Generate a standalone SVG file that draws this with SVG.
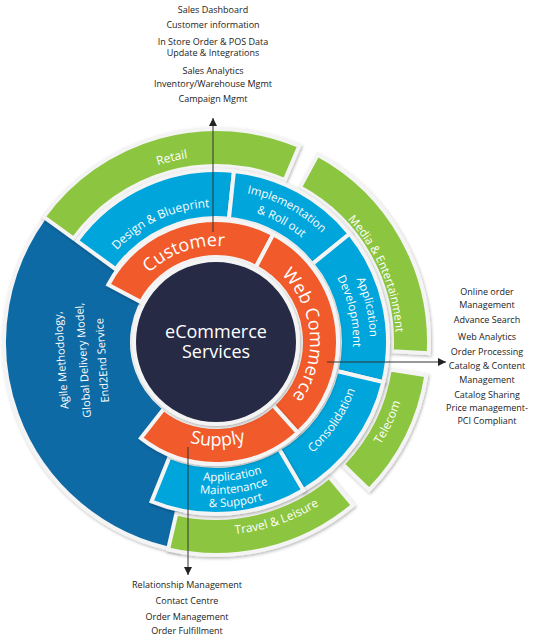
<svg xmlns="http://www.w3.org/2000/svg" width="533" height="642" viewBox="0 0 533 642">
<defs>
<style>
text{font-family:"Open Sans","Noto Sans",sans-serif}
.lst{font-size:9px;fill:#222;text-anchor:middle}
.w{fill:#fff}
.big{font-size:18px;fill:#fff}
.sm{font-size:12px;fill:#fff}
.xs{font-size:11.5px;fill:#fff}
.seg{stroke:#f4f4f4;stroke-width:4;stroke-linejoin:miter;filter:url(#sh)}
.or{fill:#f15a29}.bl{fill:#00a5db}.gr{fill:#8cc63f}.db{fill:#0f6aa5}
.con{stroke:#333;stroke-width:1;fill:none;marker-end:url(#ah)}
</style>
<filter id="sh" x="-20%" y="-20%" width="140%" height="140%">
<feDropShadow dx="1" dy="1.5" stdDeviation="1.8" flood-color="#000" flood-opacity="0.28"/>
</filter>
<marker id="ah" markerUnits="userSpaceOnUse" markerWidth="8" markerHeight="8" refX="8" refY="4" orient="auto">
<path d="M0,0 L8,4 L0,8 Z" fill="#222"/>
</marker>
<path id="pRetail" d="M 37.66 289.18 A 186 186 0 0 1 350.92 213.96"/>
<path id="pDesign" d="M 81.51 330.23 A 135 135 0 0 1 293.44 231.41"/>
<path id="pCust" d="M 121.60 324.51 A 96 96 0 0 1 278.34 269.00"/>
<path id="pImpl" d="M 135.45 213.10 A 152 152 0 0 1 367.91 336.70"/>
<path id="pRoll" d="M 145.46 226.90 A 135 135 0 0 1 350.96 338.47"/>
<path id="pME" d="M 237.94 163.35 A 180 180 0 0 1 359.75 450.32"/>
<path id="pApp" d="M 261.03 194.73 A 154 154 0 0 1 321.03 454.63"/>
<path id="pDev" d="M 256.06 210.99 A 137 137 0 0 1 309.43 442.20"/>
<path id="pWeb" d="M 255.72 256.81 A 94 94 0 0 1 269.92 419.00"/>
<path id="pSup" d="M 126.85 395.56 A 104 104 0 0 0 306.96 392.42"/>
<path id="pA1" d="M 104.99 425.65 A 139 139 0 0 0 343.95 396.31"/>
<path id="pA2" d="M 94.61 433.47 A 152 152 0 0 0 355.92 401.39"/>
<path id="pA3" d="M 84.23 441.30 A 165 165 0 0 0 367.88 406.47"/>
<path id="pCons" d="M 205.74 488.65 A 147 147 0 0 0 348.12 277.56"/>
<path id="pTel" d="M 232.92 535.26 A 194 194 0 0 0 374.92 230.72"/>
<path id="pTrav" d="M 89.37 487.66 A 193 193 0 0 0 405.45 378.82"/>
</defs>
<rect width="533" height="642" fill="#fff"/>
<circle cx="216" cy="342" r="174" fill="#ececec"/>

<g id="agile">
<path class="seg db" d="M 179.20 550.78 A 212 212 0 0 1 53.61 205.73 L 151.66 288.0 A 84 84 0 0 0 201.42 424.72 Z"/>
<text class="w" font-size="11" text-anchor="middle" transform="translate(65,360) rotate(-94)">Agile Methodology,</text>
<text class="w" font-size="11" text-anchor="middle" transform="translate(87,360) rotate(-94)">Global Delivery Model,</text>
<text class="w" font-size="11" text-anchor="middle" transform="translate(106,360) rotate(-94)">End2End Service</text>
</g>

<g id="retail">
<path class="seg gr" d="M 43.68 216.80 A 213 213 0 0 1 299.22 145.93 L 284.76 179.99 A 176 176 0 0 0 73.62 238.55 Z"/>
<text class="sm"><textPath href="#pRetail" startOffset="50%" text-anchor="middle">Retail</textPath></text>
</g>
<g id="media">
<path class="seg gr" d="M 317.64 154.82 A 213 213 0 0 1 428.71 353.14 L 391.75 351.20 A 176 176 0 0 0 299.99 187.33 Z"/>
<text class="xs"><textPath href="#pME" startOffset="50%" text-anchor="middle">Media &amp; Entertainment</textPath></text>
</g>
<g id="telecom">
<path class="seg gr" d="M 426.38 375.31 A 213 213 0 0 1 369.21 489.97 L 342.60 464.27 A 176 176 0 0 0 389.84 369.53 Z"/>
<text class="sm"><textPath href="#pTel" startOffset="50%" text-anchor="middle">Telecom</textPath></text>
</g>
<g id="travel">
<path class="seg gr" d="M 352.92 505.16 A 213 213 0 0 1 168.07 549.55 L 176.40 513.49 A 176 176 0 0 0 329.13 476.82 Z"/>
<text class="sm"><textPath href="#pTrav" startOffset="50%" text-anchor="middle">Travel &amp; Leisure</textPath></text>
</g>

<g id="design">
<path class="seg bl" d="M 76.85 240.90 A 172 172 0 0 1 233.97 170.95 L 228.96 218.68 A 124 124 0 0 0 115.68 269.11 Z"/>
<text class="sm"><textPath href="#pDesign" startOffset="50%" text-anchor="middle">Design &amp; Blueprint</textPath></text>
</g>
<g id="implementation">
<path class="seg bl" d="M 233.97 170.95 A 172 172 0 0 1 349.66 233.76 L 312.36 263.97 A 124 124 0 0 0 228.96 218.68 Z"/>
<text class="xs"><textPath href="#pImpl" startOffset="50%" text-anchor="middle">Implementation</textPath></text>
<text class="xs"><textPath href="#pRoll" startOffset="50%" text-anchor="middle">&amp; Roll out</textPath></text>
</g>
<g id="appdev">
<path class="seg bl" d="M 349.66 233.76 A 172 172 0 0 1 383.25 382.14 L 336.58 370.94 A 124 124 0 0 0 312.36 263.97 Z"/>
<text class="xs"><textPath href="#pApp" startOffset="50%" text-anchor="middle">Application</textPath></text>
<text class="xs"><textPath href="#pDev" startOffset="50%" text-anchor="middle">Development</textPath></text>
</g>
<g id="consolidation">
<path class="seg bl" d="M 383.25 382.14 A 172 172 0 0 1 303.29 490.20 L 278.93 448.84 A 124 124 0 0 0 336.58 370.94 Z"/>
<text class="sm"><textPath href="#pCons" startOffset="50%" text-anchor="middle">Consolidation</textPath></text>
</g>
<g id="maintenance">
<path class="seg bl" d="M 303.29 490.20 A 172 172 0 0 1 151.57 501.48 L 169.55 456.97 A 124 124 0 0 0 278.93 448.84 Z"/>
<text class="xs"><textPath href="#pA1" startOffset="50%" text-anchor="middle">Application</textPath></text>
<text class="xs"><textPath href="#pA2" startOffset="50%" text-anchor="middle">Maintenance</textPath></text>
<text class="xs"><textPath href="#pA3" startOffset="50%" text-anchor="middle">&amp; Support</textPath></text>
</g>

<g id="customer">
<path class="seg or" d="M 108.29 284.72 A 122 122 0 0 1 273.28 234.29 L 255.91 266.95 A 85 85 0 0 0 140.95 302.09 Z"/>
<text class="big"><textPath href="#pCust" startOffset="50%" text-anchor="middle">Customer</textPath></text>
</g>
<g id="webcommerce">
<path class="seg or" d="M 273.28 234.29 A 122 122 0 0 1 297.63 432.66 L 272.87 405.16 A 85 85 0 0 0 255.91 266.95 Z"/>
<text class="big"><textPath href="#pWeb" startOffset="50%" text-anchor="middle">Web Commerce</textPath></text>
</g>
<g id="supply">
<path class="seg or" d="M 297.63 432.66 A 122 122 0 0 1 140.88 438.14 L 163.67 408.98 A 85 85 0 0 0 272.87 405.16 Z"/>
<text class="big"><textPath href="#pSup" startOffset="50%" text-anchor="middle">Supply</textPath></text>
</g>

<g id="center">
<circle cx="216" cy="342" r="82" fill="#262944" stroke="#f4f4f4" stroke-width="4" filter="url(#sh)"/>
<text class="big" text-anchor="middle" x="216" y="338" font-size="17.5">eCommerce</text>
<text class="big" text-anchor="middle" x="216" y="358" font-size="17.5">Services</text>
</g>

<g id="connectors">
<line class="con" x1="213" y1="232" x2="213" y2="118"/>
<line class="con" x1="327" y1="362" x2="446" y2="362"/>
<line class="con" x1="188" y1="447" x2="188" y2="575"/>
</g>

<g id="retail-list">
<text class="lst" x="213" y="13">Sales Dashboard</text>
<text class="lst" x="213" y="28">Customer information</text>
<text class="lst" x="213" y="45">In Store Order &amp; POS Data</text>
<text class="lst" x="213" y="56">Update &amp; Integrations</text>
<text class="lst" x="213" y="74">Sales Analytics</text>
<text class="lst" x="213" y="87">Inventory/Warehouse Mgmt</text>
<text class="lst" x="213" y="102">Campaign Mgmt</text>
</g>
<g id="web-list">
<text class="lst" x="487" y="295">Online order</text>
<text class="lst" x="487" y="308">Management</text>
<text class="lst" x="487" y="323">Advance Search</text>
<text class="lst" x="487" y="340">Web Analytics</text>
<text class="lst" x="487" y="355">Order Processing</text>
<text class="lst" x="487" y="369">Catalog &amp; Content</text>
<text class="lst" x="487" y="383">Management</text>
<text class="lst" x="487" y="398">Catalog Sharing</text>
<text class="lst" x="487" y="411">Price management-</text>
<text class="lst" x="487" y="424">PCI Compliant</text>
</g>
<g id="supply-list">
<text class="lst" x="187" y="588" font-size="8.6">Relationship Management</text>
<text class="lst" x="187" y="604">Contact Centre</text>
<text class="lst" x="187" y="620">Order Management</text>
<text class="lst" x="187" y="634">Order Fulfillment</text>
</g>
</svg>
